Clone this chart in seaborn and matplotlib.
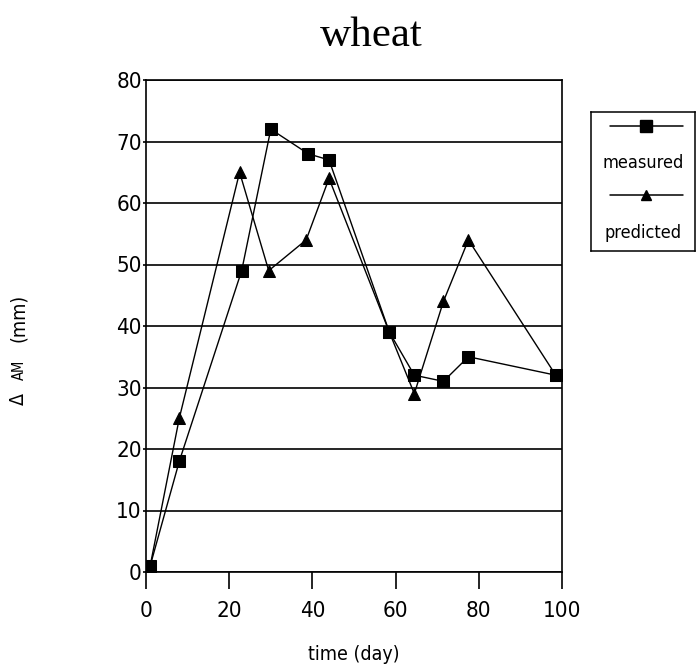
import matplotlib
matplotlib.use("Agg")
import matplotlib.pyplot as plt
import seaborn as sns
import pandas as pd

days_measured = [1, 8, 23, 30, 39, 44, 58.5, 64.5, 71.5, 77.5, 98.5]
measured = [1, 18, 49, 72, 68, 67, 39, 32, 31, 35, 32]
days_predicted = [1, 8, 22.5, 29.5, 38.5, 44, 58.5, 64.5, 71.5, 77.5, 98.5]
predicted = [1, 25, 65, 49, 54, 64, 39, 29, 44, 54, 32]
x_ticks = [0, 20, 40, 60, 80, 100]
y_ticks = [0, 10, 20, 30, 40, 50, 60, 70, 80]

sns.set_theme(style="white")
plt.rcParams['font.family'] = ['DejaVu Sans']
plt.rcParams['font.stretch'] = 'condensed'

fig = plt.figure(figsize=(6.97, 6.69), dpi=100)
ax = fig.add_axes([146/697, 1-572/669, (562-146)/697, (572-80)/669])

df_m = pd.DataFrame({"x": days_measured, "y": measured})
df_p = pd.DataFrame({"x": days_predicted, "y": predicted})
sns.lineplot(data=df_m, x="x", y="y", ax=ax, color="black", marker="s", markersize=9,
             linewidth=1.0, markeredgecolor="black", sort=False)
sns.lineplot(data=df_p, x="x", y="y", ax=ax, color="black", marker="^", markersize=8,
             linewidth=1.0, markeredgecolor="black", sort=False)

ax.set_xlim(0, 100)
ax.set_ylim(0, 80)
ax.set_xticks(x_ticks)
ax.set_yticks(y_ticks)
ax.yaxis.grid(True, color="black", linewidth=1.2)
ax.set_axisbelow(True)
for s in ax.spines.values():
    s.set_color("black")
    s.set_linewidth(1.2)
ax.tick_params(axis="both", direction="out", width=1.2, color="black",
               labelsize=16, labelcolor="black", left=True, bottom=True)
ax.tick_params(axis="y", length=2, pad=1)
ax.tick_params(axis="x", length=12, pad=9)
ax.set_xlabel("time (day)", fontsize=14, color="black", labelpad=17)
ax.set_ylabel("")
lab_x = 24 / 697
for txt, ycen, fs in [("Δ", 399, 14), ("AM", 370, 10.5), ("(mm)", 318, 14)]:
    fig.text(lab_x, 1 - ycen / 669, txt, rotation=90, rotation_mode="anchor",
             ha="center", va="baseline", fontsize=fs, color="black")

fig.text(371/697, 1-36/669, "wheat", ha="center", va="center", fontsize=31,
         family=["Liberation Serif", "DejaVu Serif"], stretch="condensed", color="black")

# legend box
lax = fig.add_axes([591/697, 1-251/669, (695-591)/697, (251-112)/669])
lax.set_xlim(0, 1)
lax.set_ylim(0, 1)
lax.set_xticks([])
lax.set_yticks([])
for s in lax.spines.values():
    s.set_color("black")
    s.set_linewidth(1.1)
lax.plot([0.18, 0.88], [0.9, 0.9], color="black", linewidth=1.1)
lax.plot([0.53], [0.9], marker="s", color="black", markersize=8)
lax.plot([0.18, 0.88], [0.4, 0.4], color="black", linewidth=1.1)
lax.plot([0.53], [0.4], marker="^", color="black", markersize=7)
lax.text(0.5, 0.63, "measured", ha="center", va="center", fontsize=13, color="black")
lax.text(0.5, 0.13, "predicted", ha="center", va="center", fontsize=13, color="black")

fig.savefig("out.png", dpi=100, facecolor="white")
